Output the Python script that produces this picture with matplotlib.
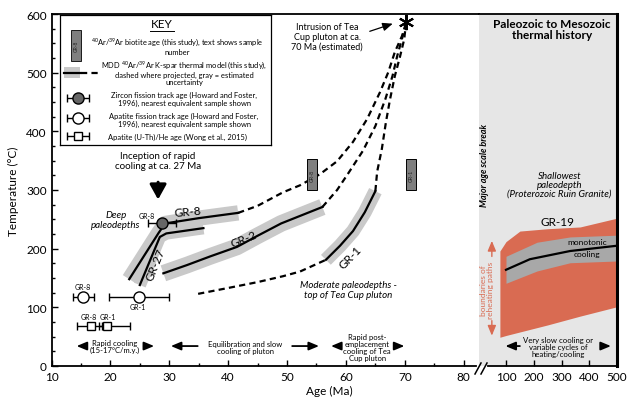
import numpy as np
import matplotlib.pyplot as plt
from matplotlib.patches import Rectangle
from matplotlib.lines import Line2D
from matplotlib.ticker import MultipleLocator

plt.rcParams['font.family'] = ['Lato', 'DejaVu Sans']
plt.rcParams['mathtext.fontset'] = 'custom'
plt.rcParams['mathtext.rm'] = 'Lato'
plt.rcParams['mathtext.it'] = 'Lato:italic'

# MDD K-spar thermal model paths (age Ma, temperature C)
gr8_age = [23.2, 28.2, 29.3, 35.0, 41.7]
gr8_t = [148, 227, 243, 252, 261]
gr27_age = [25.0, 28.4, 29.5, 35.8]
gr27_t = [138, 220, 226, 235]
gr2_age = [29.0, 33.0, 37.0, 41.5, 45.0, 49.0, 52.5, 56.0]
gr2_t = [158, 172, 187, 203, 222, 243, 257, 271]
gr1_age = [56.6, 59.0, 61.2, 63.2, 65.0]
gr1_t = [181, 205, 230, 262, 298]

# projected (dashed) paths
dash_top_age = [41.7, 45.0, 49.3, 52.2, 55.6, 58.5, 61.2, 63.6, 65.8, 67.2, 68.3, 69.5, 70.2]
dash_top_t = [261, 273, 296, 308, 327, 349, 382, 421, 467, 501, 535, 562, 584]
dash_mid_age = [56.0, 58.5, 60.5, 62.9, 65.0, 66.7, 67.9, 68.7, 69.5, 70.2]
dash_mid_t = [271, 300, 330, 367, 409, 455, 494, 528, 557, 584]
dash_right_age = [65.0, 65.3, 66.1, 66.8, 67.5, 68.3, 69.2, 69.9, 70.2]
dash_right_t = [298, 331, 370, 416, 455, 494, 528, 557, 584]
dash_low_age = [34.9, 40.0, 45.0, 49.3, 52.2, 56.6]
dash_low_t = [123, 133, 143, 153, 161, 181]

intrusion_age, intrusion_t = 70.2, 586

# 40Ar/39Ar biotite ages
bio_names = ['GR-8', 'GR-1']
bio_age = [54.3, 71.1]
bio_tmin = [300, 300]
bio_tmax = [352, 352]

# zircon fission track
zft_age, zft_t, zft_err = 28.8, 244, 2.4
# apatite fission track
aft_names = ['GR-8', 'GR-1']
aft_age = [15.4, 24.8]
aft_t = [118, 118]
aft_err_lo = [1.8, 5.0]
aft_err_hi = [1.8, 5.2]
# apatite (U-Th)/He
he_names = ['GR-8', 'GR-1']
he_age = [16.7, 19.4]
he_t = [69, 69]
he_err_lo = [2.4, 1.4]
he_err_hi = [1.9, 3.9]

# GR-19 (Paleozoic-Mesozoic panel)
red_x = [78, 100, 150, 250, 367, 500]
red_top = [196, 212, 230, 234, 237, 252]
red_bot = [49, 52, 58, 70, 85, 101]
g19_x = [100, 212, 331, 500]
g19_top = [187, 211, 220, 223]
g19_bot = [141, 162, 176, 179]
g19_line_x = [100, 186, 331, 500]
g19_line_t = [164, 182, 196, 205]

band_c = '#c9c9c9'
red_c = '#d96b52'

fig = plt.figure(figsize=(6.39, 4.02), dpi=100)
ax = fig.add_axes([51.5/639, 35/402, 427.5/639, 352/402])
ax2 = fig.add_axes([479/639, 35/402, 138/639, 352/402])

# uncertainty bands
ax.plot(gr8_age, gr8_t, color=band_c, lw=11, solid_capstyle='butt', zorder=1)
ax.plot(gr27_age, gr27_t, color=band_c, lw=9, solid_capstyle='butt', zorder=1)
ax.plot(gr2_age, gr2_t, color=band_c, lw=12, solid_capstyle='butt', zorder=1)
ax.plot(gr1_age, gr1_t, color=band_c, lw=10, solid_capstyle='butt', zorder=1)

for a, t in [(gr8_age, gr8_t), (gr27_age, gr27_t), (gr2_age, gr2_t), (gr1_age, gr1_t)]:
    ax.plot(a, t, color='k', lw=1.6, zorder=3)

for a, t in [(dash_top_age, dash_top_t), (dash_mid_age, dash_mid_t),
             (dash_right_age, dash_right_t), (dash_low_age, dash_low_t)]:
    ax.plot(a, t, color='k', lw=1.6, dashes=(2.8, 1.9), zorder=3)

ax.plot([intrusion_age], [intrusion_t], marker=(6, 2, 0), ms=11, mew=1.5, color='k', zorder=4)

# biotite boxes
for n, x, lo, hi in zip(bio_names, bio_age, bio_tmin, bio_tmax):
    ax.bar(x, hi - lo, bottom=lo, width=1.7, color='#7f7f7f', edgecolor='k', lw=0.7, zorder=3)
    ax.text(x, (lo + hi) / 2, n, rotation=90, ha='center', va='center', fontsize=3.8, color='#222222', zorder=4)

# thermochronology points
ax.errorbar([zft_age], [zft_t], xerr=zft_err, fmt='o', ms=8, mfc='#666666', mec='k', mew=1,
            ecolor='k', elinewidth=1, capsize=3, capthick=1.2, zorder=5)
ax.errorbar(aft_age, aft_t, xerr=[aft_err_lo, aft_err_hi], fmt='o', ms=8, mfc='white', mec='k', mew=1,
            ecolor='k', elinewidth=1, capsize=3, capthick=1.2, zorder=5)
ax.errorbar(he_age, he_t, xerr=[he_err_lo, he_err_hi], fmt='s', ms=6, mfc='white', mec='k', mew=1,
            ecolor='k', elinewidth=1, capsize=3, capthick=1.2, zorder=5)

ax.text(26.2, 256, 'GR-8', fontsize=5, ha='center', va='center')
ax.text(15.35, 135, 'GR-8', fontsize=5, ha='center', va='center')
ax.text(24.7, 102, 'GR-1', fontsize=5, ha='center', va='center')
ax.text(16.4, 84, 'GR-8', fontsize=5, ha='center', va='center')
ax.text(19.6, 84, 'GR-1', fontsize=5, ha='center', va='center')

# curve labels
ax.text(33.2, 263, 'GR-8', fontsize=8.5, rotation=5, ha='center', va='center', zorder=6)
ax.text(27.6, 174, 'GR-27', fontsize=8.5, rotation=68, ha='center', va='center', zorder=6)
ax.text(42.6, 217, 'GR-2', fontsize=8.5, rotation=22, ha='center', va='center', zorder=6)
ax.text(60.8, 186, 'GR-1', fontsize=8.5, rotation=46, ha='center', va='center', zorder=6)

# annotations
ax.text(28.1, 351, 'Inception of rapid\ncooling at ca. 27 Ma', fontsize=7, ha='center', va='center', linespacing=1.15)
ax.annotate('', xy=(28.1, 279), xytext=(28.1, 318),
            arrowprops=dict(arrowstyle='-|>,head_length=0.9,head_width=0.5', lw=2.2, color='k', mutation_scale=10))
ax.text(20.9, 250, 'Deep\npaleodepths', fontsize=7, style='italic', ha='center', va='center', linespacing=1.15)
ax.text(60.4, 130, 'Moderate paleodepths -\ntop of Tea Cup pluton', fontsize=7, style='italic',
        ha='center', va='center', linespacing=1.15)
ax.text(56.8, 562, 'Intrusion of Tea\nCup pluton at ca.\n70 Ma (estimated)', fontsize=6.5, ha='center', va='center',
        linespacing=1.15)
ax.annotate('', xy=(68.4, 585), xytext=(63.6, 569),
            arrowprops=dict(arrowstyle='-|>,head_length=0.6,head_width=0.25', lw=0.9, color='k', mutation_scale=10))

# bottom period arrows
arr = dict(arrowstyle='-|>,head_length=0.6,head_width=0.25', lw=1.3, color='k', mutation_scale=10)
ax.text(20.8, 34, 'Rapid cooling\n(15-17°C/m.y.)', fontsize=5.5, ha='center', va='center', linespacing=1.05)
ax.annotate('', xy=(13.8, 34), xytext=(16.4, 34), arrowprops=arr)
ax.annotate('', xy=(27.9, 34), xytext=(25.2, 34), arrowprops=arr)
ax.text(42.9, 32, 'Equilibration and slow\ncooling of pluton', fontsize=5.5, ha='center', va='center', linespacing=1.05)
ax.annotate('', xy=(29.8, 34), xytext=(35.3, 34), arrowprops=arr)
ax.annotate('', xy=(55.9, 34), xytext=(50.4, 34), arrowprops=arr)
ax.text(63.6, 32, 'Rapid post-\nemplacement\ncooling of Tea\nCup pluton', fontsize=5.5, ha='center', va='center',
        linespacing=1.0)
ax.annotate('', xy=(57.0, 34), xytext=(59.0, 34), arrowprops=arr)
ax.annotate('', xy=(70.4, 34), xytext=(68.4, 34), arrowprops=arr)

ax.set_xlim(10, 82.6)
ax.set_ylim(0, 600)
ax.set_xticks(np.arange(10, 81, 10))
ax.set_yticks(np.arange(0, 601, 100))
ax.xaxis.set_minor_locator(MultipleLocator(5))
ax.yaxis.set_minor_locator(MultipleLocator(25))
ax.tick_params(which='both', direction='in', width=1, labelsize=8.5)
ax.tick_params(which='major', length=4)
ax.tick_params(which='minor', length=2.5)
ax.spines['right'].set_visible(False)
for s in ['left', 'bottom', 'top']:
    ax.spines[s].set_linewidth(1.3)
ax.spines['bottom'].set_bounds(10, 82.1)
ax.set_xlabel('Age (Ma)', fontsize=8.5, x=0.651, labelpad=2)
ax.set_ylabel('Temperature (°C)', fontsize=8.5, labelpad=5)

# right panel
ax2.set_facecolor('#e6e6e6')
ax2.fill_between(red_x, red_bot, red_top, color=red_c, lw=0, zorder=1)
ax2.fill_between(g19_x, g19_bot, g19_top, color='#a8a8a8', lw=0, zorder=2)
ax2.plot(g19_line_x, g19_line_t, color='k', lw=1.6, zorder=3)
ax2.text(266, 574, 'Paleozoic to Mesozoic\nthermal history', fontsize=8.5, weight='bold', ha='center', va='center',
         linespacing=1.0)
ax2.text(24, 344, 'Major age scale break', fontsize=6.5, weight='bold', style='italic', rotation=90,
         ha='center', va='center')
ax2.text(292, 310, 'Shallowest\npaleodepth\n(Proterozoic Ruin Granite)', fontsize=7, style='italic',
         ha='center', va='center', linespacing=1.0)
ax2.text(284, 247, 'GR-19', fontsize=8.5, ha='center', va='center')
ax2.text(392, 213, 'monotonic', fontsize=6, ha='center', va='center', zorder=4)
ax2.text(392, 192, 'cooling', fontsize=6, ha='center', va='center', zorder=4)
ax2.text(31, 131, 'boundaries of\nreheating paths', fontsize=6, color=red_c, rotation=90,
         ha='center', va='center', linespacing=1.0)
rarr = dict(arrowstyle='-|>,head_length=0.6,head_width=0.25', lw=1, color=red_c, mutation_scale=10)
ax2.annotate('', xy=(49, 218), xytext=(49, 182), arrowprops=rarr)
ax2.annotate('', xy=(49, 47), xytext=(49, 82), arrowprops=rarr)
ax2.text(287, 33, 'Very slow cooling or\nvariable cycles of\nheating/cooling', fontsize=5.6, ha='center', va='center',
         linespacing=1.0)
ax2.annotate('', xy=(88, 34), xytext=(160, 34), arrowprops=arr)
ax2.annotate('', xy=(488, 34), xytext=(432, 34), arrowprops=arr)

ax2.set_xlim(2.7, 500)
ax2.set_ylim(0, 600)
ax2.set_xticks([100, 200, 300, 400, 500])
ax2.set_yticks([])
ax2.tick_params(direction='in', length=4, width=1, labelsize=8.5)
ax2.spines['left'].set_visible(False)
ax2.spines['top'].set_linewidth(1.3)
ax2.spines['bottom'].set_linewidth(1.3)
ax2.spines['right'].set_linewidth(2.2)
ax2.spines['bottom'].set_bounds(35, 500)

# break marks
for dx in [0, 6]:
    fig.add_artist(Line2D([(475 + dx) / 639, (481 + dx) / 639], [1 - 375 / 402, 1 - 364 / 402],
                          color='k', lw=1.1))

# key
kx = fig.add_axes([60/639, 1 - 146/402, 211/639, 130/402])
kx.set_xlim(0, 211)
kx.set_ylim(130, 0)
kx.set_xticks([])
kx.set_yticks([])
for s in kx.spines.values():
    s.set_linewidth(0.9)
kfs = 5.4
kx.text(102, 9, 'KEY', fontsize=8.5, ha='center', va='center')
kx.plot([90, 114], [15.5, 15.5], color='k', lw=0.7)
kx.add_patch(Rectangle((11, 15), 10, 31, fc='#7f7f7f', ec='k', lw=0.6))
kx.text(16, 30.5, 'GR-8', rotation=90, fontsize=3.5, ha='center', va='center', color='#222222')
kx.text(117, 30.5, r'$^{40}$Ar/$^{39}$Ar biotite age (this study), text shows sample' + '\nnumber',
        fontsize=kfs, ha='center', va='center', linespacing=1.25)
kx.add_patch(Rectangle((4, 52), 16, 11, fc=band_c, ec='none'))
kx.plot([4, 20], [57.5, 57.5], color='k', lw=1.6)
kx.plot([21, 38], [57.5, 57.5], color='k', lw=1.6, dashes=(2.8, 1.9))
kx.text(124, 57, 'MDD $^{40}$Ar/$^{39}$Ar K-spar thermal model (this study),\ndashed where projected, gray = estimated\nuncertainty',
        fontsize=kfs, ha='center', va='center', linespacing=1.1)
kx.errorbar([18], [83], xerr=11, fmt='o', ms=8, mfc='#666666', mec='k', mew=1,
            ecolor='k', elinewidth=1, capsize=3, capthick=1.2)
kx.text(124, 83, 'Zircon fission track age (Howard and Foster,\n1996), nearest equivalent sample shown',
        fontsize=kfs, ha='center', va='center', linespacing=1.15)
kx.errorbar([18], [103], xerr=11, fmt='o', ms=8, mfc='white', mec='k', mew=1,
            ecolor='k', elinewidth=1, capsize=3, capthick=1.2)
kx.text(124, 104, 'Apatite fission track age (Howard and Foster,\n1996), nearest equivalent sample shown',
        fontsize=kfs, ha='center', va='center', linespacing=1.15)
kx.errorbar([18], [121], xerr=11, fmt='s', ms=6, mfc='white', mec='k', mew=1,
            ecolor='k', elinewidth=1, capsize=3, capthick=1.2)
kx.text(118, 121, 'Apatite (U-Th)/He age (Wong et al., 2015)', fontsize=kfs, ha='center', va='center')

fig.savefig('out.png', dpi=100)
